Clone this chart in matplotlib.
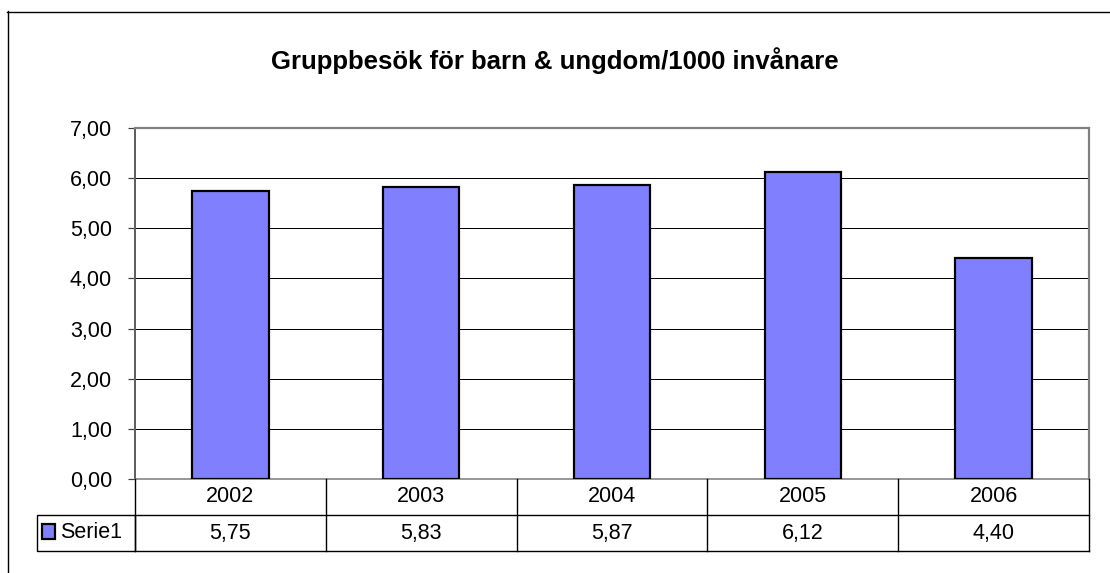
import matplotlib
matplotlib.use("Agg")
import matplotlib.pyplot as plt
from matplotlib.lines import Line2D
from matplotlib.patches import Rectangle

years = ["2002", "2003", "2004", "2005", "2006"]
values = [5.75, 5.83, 5.87, 6.12, 4.40]
series_name = "Serie1"
title = "Gruppbesök för barn & ungdom/1000 invånare"
yticks = [0, 1, 2, 3, 4, 5, 6, 7]

W, H = 1110, 573
PT = 72 / 100  # points per pixel at dpi 100
plt.rcParams['font.family'] = ['Liberation Sans', 'DejaVu Sans']
fig = plt.figure(figsize=(W / 100, H / 100), dpi=100)
fig.patch.set_facecolor('white')

def fx(px):
    return px / W

def fy(py):
    return 1 - py / H

FS = 15.5

# outer chart border (extends beyond the image on right/bottom)
fig.add_artist(Line2D([fx(7.5), fx(7.5)], [fy(11), fy(600)], color='black', lw=1.4 * PT))
fig.add_artist(Line2D([fx(7), fx(1200)], [fy(11.5), fy(11.5)], color='black', lw=1.4 * PT))

L, R, T, B = 135, 1089, 128, 479
ax = fig.add_axes([fx(L), fy(B), fx(R - L), (B - T) / H])
x = list(range(len(years)))
ax.bar(x, values, width=0.4, color='#8080FF', edgecolor='black', linewidth=2.2 * PT, zorder=3)
ax.set_xlim(-0.5, len(years) - 0.5)
ax.set_ylim(0, 7)
ax.set_yticks(yticks)
ax.set_yticklabels([f"{v:.2f}".replace('.', ',') for v in yticks], fontsize=FS)
ax.yaxis.grid(True, color='black', lw=1.0 * PT, zorder=0)
ax.set_xticks([])
ax.tick_params(axis='y', direction='out', length=7 * PT, width=1.2 * PT, color='#404040', pad=16 * PT)
for s in ['top', 'right']:
    ax.spines[s].set_color('#808080')
    ax.spines[s].set_linewidth(2.2 * PT)
ax.spines['left'].set_color('#606060')
ax.spines['left'].set_linewidth(2 * PT)
ax.spines['bottom'].set_color('#808080')
ax.spines['bottom'].set_linewidth(1.6 * PT)

fig.text(0.5, fy(61), title, ha='center', va='center', fontsize=18.5, fontweight='bold')

# data table below the plot
tb = fig.add_axes([fx(L), fy(551), fx(R - L), 72 / H])
tb.set_xlim(-0.5, len(years) - 0.5)
tb.set_ylim(0, 2)
tb.axis('off')
for i, (yr, v) in enumerate(zip(years, values)):
    tb.text(i, 1.5, yr, ha='center', va='center', fontsize=FS)
    tb.text(i, 0.5, f"{v:.2f}".replace('.', ','), ha='center', va='center', fontsize=FS)
for b in range(len(years) + 1):
    tb.plot([b - 0.5, b - 0.5], [0, 2], color='black', lw=1.4 * PT, clip_on=False)
tb.plot([-0.5, len(years) - 0.5], [1, 1], color='black', lw=1.4 * PT, clip_on=False)
tb.plot([-0.5, len(years) - 0.5], [0, 0], color='black', lw=1.4 * PT, clip_on=False)

# legend cell
fig.add_artist(Rectangle((fx(37), fy(551)), fx(L - 37), 36 / H, fill=False,
                         edgecolor='black', lw=1.4 * PT))
fig.add_artist(Rectangle((fx(42), fy(539)), fx(13), 15 / H, facecolor='#8080FF',
                         edgecolor='black', lw=2.2 * PT))
fig.text(fx(60), fy(533), series_name, ha='left', va='center', fontsize=FS)

fig.savefig('out.png', dpi=100)
